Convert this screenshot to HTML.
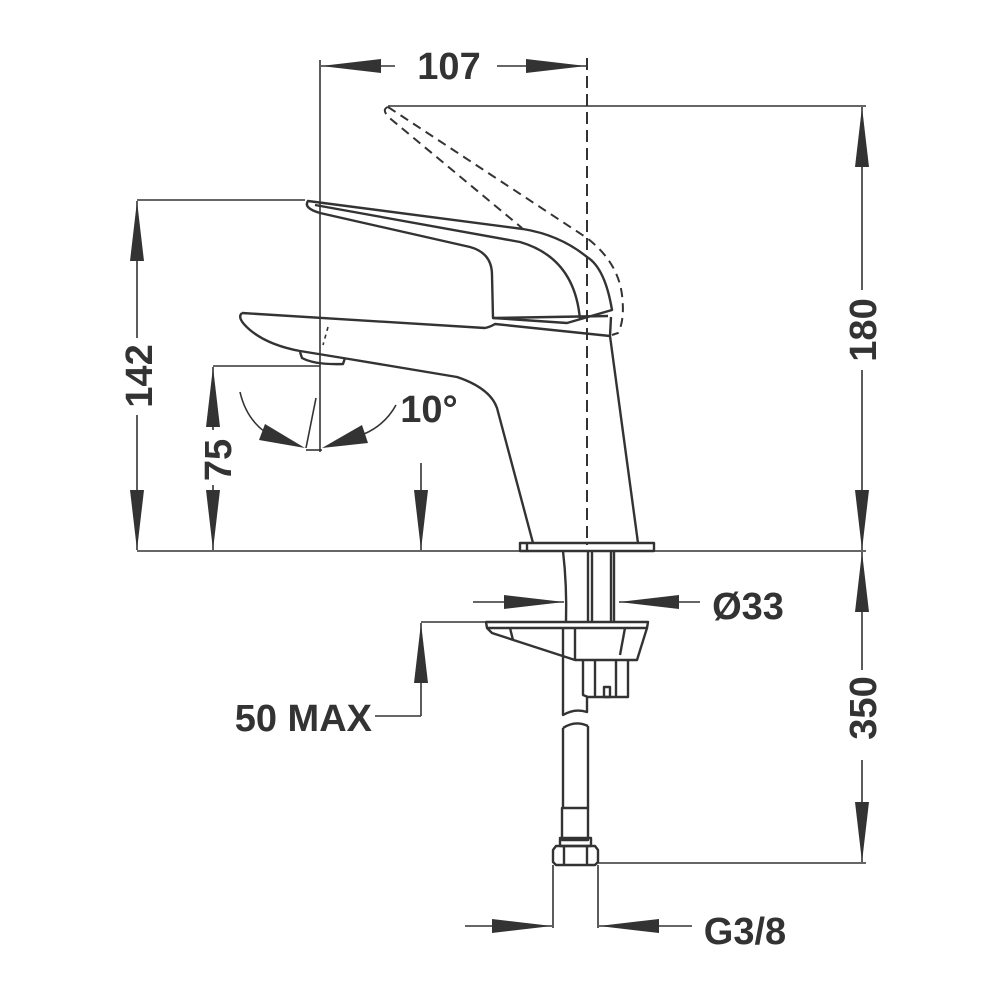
<!DOCTYPE html>
<html><head><style>html,body{margin:0;padding:0;background:#fff}svg{display:block}
text{font-family:"Liberation Sans",sans-serif;font-weight:bold;fill:#333;font-size:38px}</style></head>
<body>
<svg width="1000" height="1000" viewBox="0 0 1000 1000" xmlns="http://www.w3.org/2000/svg">
<defs>
<marker id="a" viewBox="0 0 60 20" refX="60" refY="10" markerWidth="60" markerHeight="20" markerUnits="userSpaceOnUse" orient="auto"><path d="M0,3 L60,10 L0,17 Z" fill="#333"/></marker>
</defs>
<g stroke="#333" stroke-width="1.6" fill="none">
<line x1="320" y1="60" x2="320" y2="452"/>
<line x1="587" y1="58" x2="587" y2="545" stroke-dasharray="12,6" stroke-width="2"/>
<line x1="395" y1="66" x2="321" y2="66" marker-end="url(#a)"/>
<line x1="497" y1="66" x2="586" y2="66" marker-end="url(#a)"/>
<line x1="388" y1="106" x2="866" y2="106"/>
<line x1="862" y1="290" x2="862" y2="107" marker-end="url(#a)"/>
<line x1="862" y1="370" x2="862" y2="550" marker-end="url(#a)"/>
<line x1="137" y1="551" x2="866" y2="551"/>
<line x1="137" y1="200" x2="305" y2="200"/>
<line x1="137" y1="338" x2="137" y2="201" marker-end="url(#a)"/>
<line x1="137" y1="415" x2="137" y2="550" marker-end="url(#a)"/>
<line x1="213" y1="366" x2="320" y2="366"/>
<line x1="213" y1="430" x2="213" y2="367" marker-end="url(#a)"/>
<line x1="213" y1="485" x2="213" y2="550" marker-end="url(#a)"/>
<line x1="862" y1="670" x2="862" y2="552" marker-end="url(#a)"/>
<line x1="862" y1="760" x2="862" y2="862" marker-end="url(#a)"/>
<line x1="598" y1="863" x2="866" y2="863"/>
<line x1="473" y1="602" x2="564" y2="602" marker-end="url(#a)"/>
<line x1="700" y1="602" x2="619" y2="602" marker-end="url(#a)"/>
<line x1="421" y1="463" x2="421" y2="550" marker-end="url(#a)"/>
<line x1="421" y1="716" x2="421" y2="623" marker-end="url(#a)"/>
<line x1="421" y1="622" x2="486" y2="622"/>
<line x1="375" y1="716" x2="421" y2="716"/>
<line x1="553" y1="865" x2="553" y2="928"/>
<line x1="598" y1="865" x2="598" y2="928"/>
<line x1="465" y1="926" x2="552" y2="926" marker-end="url(#a)"/>
<line x1="692" y1="926" x2="599" y2="926" marker-end="url(#a)"/>
<path d="M240,392 Q246,418 265,432"/>
<path d="M396,405 Q385,425 364,434"/>
<line x1="316" y1="398" x2="306" y2="448"/>
<line x1="306" y1="450" x2="322" y2="450"/>
<line x1="328" y1="327" x2="323" y2="345" stroke-dasharray="4,4"/>
</g>
<path d="M305,448 L259,440 L265,424 Z" fill="#333"/>
<path d="M322,448 L368,443 L362,425 Z" fill="#333"/>
<g stroke="#333" stroke-width="2.4" fill="none" stroke-linejoin="round">
<path d="M388,107 Q380,110 392,120 L522,228" stroke-dasharray="9,6" stroke-width="2"/>
<path d="M388,107 L587,238 Q618,262 622,295 Q625,320 618,333 L612,335" stroke-dasharray="9,6" stroke-width="2"/>
<path d="M308,201 Q303,208 320,213 L470,247 Q492,253 492,275 L493,318 L567,323 L612,310 Q605,268 587,257 Q560,235 523,229 L308,201 Z"/>
<path d="M315,205 L520,242 Q575,258 580,320"/>
<path d="M493,318 L608,316"/>
<path d="M242,313 Q236,318 250,330 Q268,345 300,351 L343,358 L457,377 Q490,388 497,408 L533,543"/>
<path d="M242,313 L485,328 Q490,327 495,324 L610,336 L611,317"/>
<path d="M610,336 L638,543"/>
<path d="M300,352 L302,358 Q315,365 343,364 L345,358"/>
<rect x="520" y="543" width="134" height="8"/>
<line x1="527" y1="543" x2="527" y2="551"/>
<path d="M563,551 Q567,585 566,622"/>
<path d="M588,551 L588,622 M592,551 L592,622"/>
<path d="M614,551 L614,622 M611,551 L611,622"/>
<path d="M486,622 L648,622 L647,628 L637,660 L575,660 L492,633 L487,628 Z"/>
<line x1="487" y1="628" x2="647" y2="628"/>
<line x1="563" y1="628" x2="563" y2="645"/>
<line x1="575" y1="628" x2="575" y2="660"/>
<line x1="510" y1="628" x2="513" y2="640"/>
<line x1="625" y1="628" x2="620" y2="655"/>
<path d="M583,660 L583,695 L588,697 L628,697 L628,660"/>
<line x1="595" y1="660" x2="595" y2="697"/>
<line x1="616" y1="660" x2="616" y2="697"/>
<rect x="604" y="687" width="6" height="10"/>
<path d="M563,645 L563,715 Q575,708 587,712 L587,697"/>
<path d="M563,728 Q575,720 588,726"/>
<path d="M563,728 L563,808 M588,726 L588,808"/>
<rect x="562" y="808" width="26" height="32"/>
<rect x="560" y="838" width="31" height="8"/>
<path d="M553,850 L556,846 L595,846 L598,850 L598,862 L595,865 L556,865 L553,862 Z"/>
<line x1="564" y1="846" x2="564" y2="865"/>
<line x1="587" y1="846" x2="587" y2="865"/>
</g>
<text x="449" y="79" text-anchor="middle">107</text>
<text x="0" y="0" text-anchor="middle" transform="translate(876 330) rotate(-90)">180</text>
<text x="0" y="0" text-anchor="middle" transform="translate(152 376) rotate(-90)">142</text>
<text x="0" y="0" text-anchor="middle" transform="translate(231 460) rotate(-90)">75</text>
<text x="0" y="0" text-anchor="middle" transform="translate(876 708) rotate(-90)">350</text>
<text x="429" y="422" text-anchor="middle">10°</text>
<text x="748" y="619" text-anchor="middle">Ø33</text>
<text x="372" y="731" text-anchor="end">50 MAX</text>
<text x="745" y="944" text-anchor="middle">G3/8</text>
</svg>
</body></html>
